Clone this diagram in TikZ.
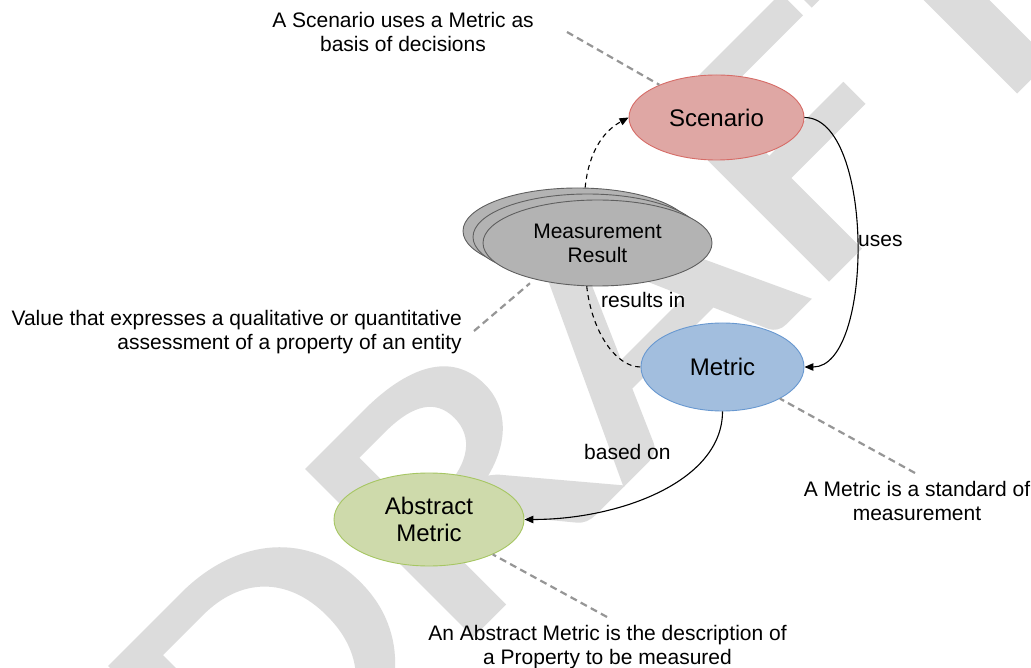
\documentclass[tikz,border=0pt]{standalone}
\usepackage{fontspec}
\setmainfont{Liberation Sans}
\newfontfamily\wmfamily[FakeBold=1.4]{Carlito}
\usetikzlibrary{shapes.geometric,arrows.meta}

\definecolor{wmgray}{RGB}{220,220,220}
\definecolor{scenfill}{RGB}{223,167,164}
\definecolor{scenline}{RGB}{214,108,103}
\definecolor{metfill}{RGB}{162,190,222}
\definecolor{metline}{RGB}{104,152,208}
\definecolor{absfill}{RGB}{206,218,171}
\definecolor{absline}{RGB}{166,198,98}
\definecolor{resfill}{RGB}{179,179,179}
\definecolor{resline}{RGB}{95,95,95}
\definecolor{notegray}{RGB}{150,150,150}

\begin{document}
\begin{tikzpicture}[x=1pt,y=-1pt,
  concept/.style={ellipse, draw, line width=0.9pt, inner sep=0pt, align=center},
  bigtext/.style={font=\fontsize{24}{27}\selectfont},
  smalltext/.style={font=\fontsize{21}{24}\selectfont},
  note/.style={smalltext, inner sep=0pt},
  lbl/.style={smalltext, inner sep=0pt},
  notelink/.style={notegray, line width=2.2pt, dash pattern=on 7pt off 4.5pt},
  rel/.style={line width=1.1pt},
  reldash/.style={rel, dash pattern=on 5pt off 4pt},
  tip/.style={-{Triangle[length=9pt,width=7.5pt]}}
]
\useasboundingbox (0,0) rectangle (1031,668);
\fill[white] (0,0) rectangle (1031,668);

% watermark
\begin{scope}
  \clip (0,0) rectangle (1031,668);
  \node[text=wmgray, font=\wmfamily\fontsize{363}{363}\selectfont, inner sep=0pt,
        anchor=base west, rotate=45, xscale=1.24] (draft) at (255,852) {DRAFT};
\end{scope}

% concepts
\node[concept, fill=scenfill, draw=scenline, minimum width=175pt, minimum height=85pt, bigtext]
  (scen) at (716.5,117.5) {Scenario};
\node[concept, fill=resfill, draw=resline, minimum width=229pt, minimum height=86pt]
  (mrback) at (577.5,231) {};
\node[concept, fill=resfill, draw=resline, minimum width=229pt, minimum height=86pt]
  (mrmid) at (587.5,237) {};
\node[concept, fill=resfill, draw=resline, minimum width=229pt, minimum height=86pt, smalltext]
  (mr) at (597.5,243) {Measurement\\Result};
\node[concept, fill=metfill, draw=metline, minimum width=163pt, minimum height=88pt, bigtext]
  (met) at (722.5,367) {Metric};
\node[concept, fill=absfill, draw=absline, minimum width=190pt, minimum height=93pt, bigtext]
  (abs) at (429,519.5) {Abstract\\Metric};

% relations
\draw[reldash, tip] (mrback.80) .. controls +(4,-40) and +(-22,12) .. (scen.west);
\draw[rel, tip] (scen.east) .. controls +(70,0) and +(70,0) .. (met.east);
\draw[reldash] (mr.256) .. controls +(5,45) and +(-25,0) .. (met.west);
\draw[rel, tip] (met.south) .. controls +(0,70) and +(95,0) .. (abs.east);

\node[lbl, anchor=base west] (luses) at (858,247) {uses};
\node[lbl, anchor=base west] (lres) at (601,308) {results in};
\node[lbl, anchor=base west] (lbased) at (584,459) {based on};

% annotations
\node[note, align=center, anchor=north] (n1) at (403,12.5)
  {A Scenario uses a Metric as\\basis of decisions};
\node[note, align=right, anchor=north east] (n2) at (462,310.5)
  {Value that expresses a qualitative or quantitative\\assessment of a property of an entity};
\node[note, align=center, anchor=north] (n3) at (917,481.5)
  {A Metric is a standard of\\measurement};
\node[note, align=center, anchor=north] (n4) at (607.5,625.5)
  {An Abstract Metric is the description of\\a Property to be measured};

\coordinate (c1) at (567,32);
\coordinate (c2) at (474,331);
\coordinate (c3) at (915,473);
\coordinate (c4) at (607,617);
\draw[notelink] (c1) -- (scen);
\draw[notelink, shorten >=6pt] (c2) -- (mr.210);
\draw[notelink] (c3) -- (met);
\draw[notelink] (c4) -- (abs);
\end{tikzpicture}
\end{document}
